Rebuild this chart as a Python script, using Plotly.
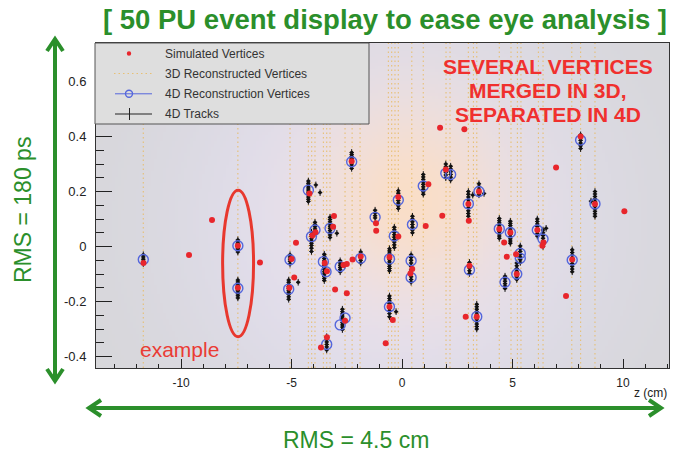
import base64
import struct
import zlib

import numpy as np
import plotly.graph_objects as go

W, H = 679, 460

# ---------------------------------------------------------------- data
# Simulated vertices: z (cm), t (ns)
sim_z = [-11.70, -9.64, -8.60, -7.43, -7.43, -6.43, -5.00, -4.88, -4.80, -5.10,
         -4.19, -4.06, -3.92, -3.08, -3.12, -2.28, -1.18, -1.17, -3.50, -3.40,
         -2.65, -2.50, -2.24, -1.87, -3.03, -2.50, -2.58, -3.40, -3.67, -0.17,
         -0.17, 1.19, 1.98, 3.02, 1.82, 1.07, 1.72, 2.82, 3.00, 3.48,
         4.40, 4.90, 4.62, 6.12, 6.40, 6.97, 10.06, 8.08, 8.73, -0.57,
         -0.57, -0.42, -0.74, 0.38, 0.46, 3.05, 2.88, 3.38, 4.74, 5.19,
         5.16, 6.35, 7.70, 7.42]
sim_t = [-0.060, -0.031, 0.096, 0.003, -0.150, -0.058, -0.045, -0.113, 0.014, -0.150,
         0.193, 0.040, 0.052, 0.111, 0.072, 0.310, 0.085, 0.057, -0.060, -0.090,
         -0.067, -0.064, -0.047, -0.036, -0.156, -0.170, -0.270, -0.330, -0.367, 0.180,
         0.036, 0.226, 0.280, 0.094, 0.112, 0.075, 0.432, 0.426, 0.155, 0.200,
         0.064, 0.051, 0.015, 0.060, 0.015, 0.287, 0.128, 0.400, 0.155, -0.038,
         -0.219, -0.267, -0.352, -0.098, -0.082, -0.070, -0.255, -0.255, -0.037, -0.100,
         -0.028, 0.003, -0.047, -0.180]

# 3D reconstructed vertices: z (cm)
reco3d_z = [-11.71, -7.43, -5.07, -4.24, -4.09, -3.94, -3.56, -3.41, -3.26, -2.58,
            -2.26, -1.90, -0.62, -0.47, -0.32, -0.17, 0.44, 0.96, 1.99, 2.17,
            3.00, 3.23, 3.38, 4.40, 4.93, 5.22, 5.38, 6.17, 6.38, 7.68,
            8.08, 8.73]

# 4D reconstructed vertices: z (cm), t (ns)
reco4d_z = [-11.71, -7.43, -7.43, -5.07, -5.13, -4.24, -4.10, -3.94, -3.26, -2.28,
            -1.22, -3.56, -3.44, -2.80, -1.87, -2.80, -2.58, -3.41, -0.57, -0.57,
            -0.17, -0.35, 0.41, 0.41, 0.47, 0.96, 1.98, 2.20, 3.00, 3.48,
            3.05, 3.38, 4.40, 4.90, 6.12, 6.38, 4.66, 5.19, 5.35, 5.35,
            7.70, 8.08, 8.73]
reco4d_t = [-0.047, 0.003, -0.152, -0.048, -0.155, 0.205, 0.036, 0.060, 0.066, 0.308,
            0.106, -0.055, -0.092, -0.073, -0.043, -0.285, -0.260, -0.356, -0.045, -0.219,
            0.169, 0.038, -0.052, -0.113, 0.080, 0.220, 0.266, 0.262, 0.155, 0.200,
            -0.085, -0.255, 0.064, 0.051, 0.060, 0.027, -0.130, -0.100, -0.025, -0.043,
            -0.049, 0.387, 0.155]

# 4D tracks, grouped in columns sharing one z (cm): (z, [t in ns ...])
track_columns = [
    (-11.71, [-0.030, -0.038, -0.046, -0.054, -0.062]),
    (-7.43, [0.024, 0.017, 0.011, 0.005, -0.001, -0.007, -0.013, -0.020]),
    (-7.43, [-0.122, -0.129, -0.136, -0.142, -0.148, -0.154, -0.160, -0.166,
             -0.172, -0.179, -0.187]),
    (-5.07, [-0.030, -0.038, -0.046, -0.054, -0.064]),
    (-5.13, [-0.122, -0.130, -0.138, -0.145, -0.152, -0.159, -0.166, -0.174, -0.183, -0.192]),
    (-4.24, [0.238, 0.230, 0.223, 0.216, 0.209, 0.202, 0.195, 0.188, 0.180, 0.172, 0.164]),
    (-4.10, [0.052, 0.044, 0.036, 0.028, 0.020, 0.012, 0.004, -0.006, -0.018]),
    (-3.94, [0.088, 0.080, 0.072, 0.064, 0.056, 0.048]),
    (-3.26, [0.106, 0.098, 0.090, 0.082, 0.074, 0.066, 0.058, 0.050, 0.042, 0.033]),
    (-2.28, [0.342, 0.335, 0.328, 0.321, 0.314, 0.307, 0.300, 0.292, 0.284]),
    (-1.22, [0.132, 0.122, 0.112, 0.104]),
    (-3.52, [-0.028, -0.036, -0.044, -0.052, -0.060, -0.068, -0.076, -0.084, -0.092,
             -0.100, -0.108, -0.116, -0.124]),
    (-2.80, [-0.052, -0.060, -0.068, -0.076, -0.084, -0.092]),
    (-1.87, [-0.020, -0.030, -0.040, -0.050, -0.060]),
    (-2.70, [-0.228, -0.237, -0.245, -0.253, -0.261, -0.269, -0.277, -0.285, -0.293, -0.302]),
    (-3.41, [-0.328, -0.338, -0.347, -0.356, -0.365, -0.376]),
    (-0.57, [-0.008, -0.016, -0.024, -0.032, -0.040, -0.048, -0.056, -0.064, -0.072,
             -0.080, -0.088]),
    (-0.57, [-0.180, -0.189, -0.198, -0.207, -0.216, -0.225, -0.234, -0.244, -0.255]),
    (-0.17, [0.203, 0.194, 0.185, 0.176, 0.167, 0.158, 0.148, 0.138]),
    (-0.35, [0.070, 0.061, 0.052, 0.043, 0.034, 0.025, 0.016, 0.006, -0.004]),
    (0.41, [-0.030, -0.040, -0.050, -0.060, -0.072, -0.085, -0.098, -0.110, -0.120, -0.130]),
    (0.47, [0.110, 0.100, 0.090, 0.080, 0.070, 0.060, 0.050]),
    (0.96, [0.262, 0.253, 0.244, 0.235, 0.226, 0.217, 0.208, 0.199, 0.190]),
    (1.98, [0.300, 0.290, 0.280, 0.270, 0.260, 0.250]),
    (2.20, [0.292, 0.282, 0.272, 0.262, 0.252, 0.242]),
    (3.00, [0.200, 0.190, 0.180, 0.170, 0.160, 0.150, 0.140, 0.130, 0.120, 0.110]),
    (3.48, [0.228, 0.218, 0.208, 0.198, 0.188]),
    (3.05, [-0.058, -0.068, -0.078, -0.088, -0.098]),
    (3.38, [-0.210, -0.219, -0.228, -0.237, -0.246, -0.255, -0.264, -0.273, -0.282,
            -0.291, -0.300]),
    (4.40, [0.102, 0.094, 0.086, 0.078, 0.070, 0.062, 0.054, 0.046, 0.038, 0.030]),
    (4.90, [0.092, 0.084, 0.076, 0.068, 0.060, 0.052, 0.044, 0.036, 0.028, 0.020, 0.012]),
    (6.12, [0.100, 0.091, 0.082, 0.073, 0.064, 0.055, 0.046, 0.038]),
    (6.38, [0.060, 0.050, 0.040, 0.030, 0.020, 0.010, 0.000]),
    (4.66, [-0.108, -0.117, -0.126, -0.135, -0.144, -0.153]),
    (5.19, [-0.060, -0.070, -0.080, -0.090, -0.100, -0.110, -0.120]),
    (5.35, [0.002, -0.008, -0.018, -0.028, -0.038, -0.048, -0.058]),
    (7.70, [-0.012, -0.022, -0.032, -0.042, -0.052, -0.062, -0.072, -0.082, -0.092]),
    (8.08, [0.406, 0.396, 0.386, 0.376, 0.366, 0.356]),
    (8.73, [0.200, 0.191, 0.182, 0.173, 0.164, 0.155, 0.146, 0.137, 0.128, 0.119, 0.110]),
]
# Tracks sitting apart from the columns
lone_track_z = [-3.90, -3.71, -2.95, -0.27, 3.20, 3.71, 6.52, 8.55, -4.70, -2.60]
lone_track_t = [0.224, 0.196, 0.048, -0.237, 0.187, 0.193, 0.066, 0.165, -0.130, -0.070]

track_z = [z for z, ts in track_columns for _ in ts] + lone_track_z
track_t = [t for _, ts in track_columns for t in ts] + lone_track_t

x_ticks = [-10, -5, 0, 5, 10]
y_ticks = [-0.4, -0.2, 0, 0.2, 0.4, 0.6]

# ---------------------------------------------------------------- styling
RED = "#e8262c"
BLUE = "#5466dc"
ORANGE = "rgba(232,188,104,0.9)"
GREEN = "#2b8f2b"
TXT = "#222222"
FONT = "Liberation Sans, Arial, sans-serif"

# plot frame in pixels
PL, PR, PT, PB = 96, 669, 43, 368
X_RANGE = [-13.85, 12.08]
Y_RANGE = [-0.4418, 0.74]


def px(x):
    return x / W


def py(y):
    return 1 - y / H


# soft glow behind the points, encoded as a small PNG
def png_uri(rgb):
    h, w, _ = rgb.shape
    raw = b"".join(b"\x00" + rgb[i].tobytes() for i in range(h))

    def chunk(tag, data):
        body = tag + data
        return struct.pack(">I", len(data)) + body + struct.pack(">I", zlib.crc32(body) & 0xFFFFFFFF)

    png = (b"\x89PNG\r\n\x1a\n"
           + chunk(b"IHDR", struct.pack(">IIBBBBB", w, h, 8, 2, 0, 0, 0))
           + chunk(b"IDAT", zlib.compress(raw, 9))
           + chunk(b"IEND", b""))
    return "data:image/png;base64," + base64.b64encode(png).decode()


gw, gh = 192, 108
u, v = np.meshgrid(np.linspace(0, 1, gw), np.linspace(0, 1, gh))
grey = np.array([214, 214, 216], float)
lav = np.array([231, 226, 248], float)
peach = np.array([250, 222, 200], float)
w_lav = np.exp(-(((u - 0.52) / 0.37) ** 2 + ((v - 0.55) / 0.65) ** 2))[..., None]
w_peach = np.exp(-(((u - 0.55) / 0.17) ** 2 + ((v - 0.48) / 0.32) ** 2))[..., None]
col = grey * (1 - w_lav) + lav * w_lav
col = col * (1 - w_peach) + peach * w_peach
glow = png_uri(np.clip(col, 0, 255).astype(np.uint8))

fig = go.Figure()

# 3D reconstructed vertices: dotted vertical lines across the frame
lz, lt = [], []
for z in reco3d_z:
    lz += [z, z, None]
    lt += [Y_RANGE[0], Y_RANGE[1], None]
fig.add_trace(go.Scatter(x=lz, y=lt, mode="lines", hoverinfo="skip",
                         line=dict(color=ORANGE, width=1.1, dash="1.5px,3px")))

# 4D tracks with their uncertainties
fig.add_trace(go.Scatter(
    x=track_z, y=track_t, mode="markers",
    marker=dict(color="#111111", size=3.5),
    error_x=dict(type="constant", value=0.1, color="#111111", thickness=1, width=0),
    error_y=dict(type="constant", value=0.012, color="#111111", thickness=1, width=0),
))

# 4D reconstructed vertices
fig.add_trace(go.Scatter(
    x=reco4d_z, y=reco4d_t, mode="markers",
    marker=dict(symbol="circle-open", color=BLUE, size=10, line=dict(width=1.4)),
))

# simulated vertices
fig.add_trace(go.Scatter(
    x=sim_z, y=sim_t, mode="markers",
    marker=dict(color=RED, size=6),
))

shapes = []
annotations = []

# legend box
LEG = dict(l=95, r=369, t=43, b=124)
shapes.append(dict(type="rect", xref="paper", yref="paper", layer="above",
                   x0=px(LEG["l"]), x1=px(LEG["r"]), y0=py(LEG["b"]), y1=py(LEG["t"]),
                   fillcolor="#dedede", line=dict(color="#555555", width=1)))
rows = [53.5, 73.5, 93.8, 114]
legend_labels = ["Simulated Vertices", "3D Reconstructed Vertices",
                 "4D Reconstruction Vertices", "4D Tracks"]
# symbols
shapes.append(dict(type="circle", xref="paper", yref="paper", layer="above",
                   x0=px(126.8), x1=px(131.2), y0=py(rows[0] + 2.2), y1=py(rows[0] - 2.2),
                   fillcolor=RED, line=dict(width=0)))
shapes.append(dict(type="line", xref="paper", yref="paper", layer="above",
                   x0=px(114), x1=px(153), y0=py(rows[1]), y1=py(rows[1]),
                   line=dict(color=ORANGE, width=1.1, dash="1.5px,3px")))
shapes.append(dict(type="line", xref="paper", yref="paper", layer="above",
                   x0=px(115), x1=px(152), y0=py(rows[2]), y1=py(rows[2]),
                   line=dict(color=BLUE, width=1)))
shapes.append(dict(type="circle", xref="paper", yref="paper", layer="above",
                   x0=px(125.5), x1=px(132.5), y0=py(rows[2] + 3.5), y1=py(rows[2] - 3.5),
                   line=dict(color=BLUE, width=1.4)))
shapes.append(dict(type="line", xref="paper", yref="paper", layer="above",
                   x0=px(115), x1=px(152), y0=py(rows[3]), y1=py(rows[3]),
                   line=dict(color="#222222", width=1)))
shapes.append(dict(type="line", xref="paper", yref="paper", layer="above",
                   x0=px(129.5), x1=px(129.5), y0=py(rows[3] - 6), y1=py(rows[3] + 6),
                   line=dict(color="#222222", width=1)))
for label, ry in zip(legend_labels, rows):
    annotations.append(dict(text=label, xref="paper", yref="paper", x=px(163), y=py(ry),
                            xanchor="left", yanchor="middle", showarrow=False,
                            font=dict(family=FONT, size=12, color="#333333")))

# highlighted pair of vertices
shapes.append(dict(type="circle", xref="x", yref="y", layer="above",
                   x0=-8.12, x1=-6.72, y0=-0.328, y1=0.205,
                   line=dict(color="#e8382e", width=3)))
annotations.append(dict(text="example", xref="paper", yref="paper", x=px(179), y=py(349),
                        xanchor="center", yanchor="middle", showarrow=False,
                        font=dict(family=FONT, size=21, color="#ea3b34")))
for line_text, ly in zip(["SEVERAL VERTICES", "MERGED IN 3D,", "SEPARATED IN 4D"],
                         [67, 90.5, 114]):
    annotations.append(dict(text=line_text, xref="paper", yref="paper", x=px(548), y=py(ly),
                            xanchor="center", yanchor="middle", showarrow=False,
                            font=dict(family=FONT, size=21, color="#f0302e", weight="bold")))

# axis caption
annotations.append(dict(text="z (cm)", xref="paper", yref="paper", x=px(669), y=py(393),
                        xanchor="right", yanchor="middle", showarrow=False,
                        font=dict(family=FONT, size=12, color=TXT)))

# headline and RMS arrows around the frame
annotations.append(dict(text="[ 50 PU event display to ease eye analysis ]",
                        xref="paper", yref="paper", x=px(385), y=py(20),
                        xanchor="center", yanchor="middle", showarrow=False,
                        font=dict(family=FONT, size=27.5, color=GREEN, weight="bold")))
annotations.append(dict(text="RMS = 4.5 cm", xref="paper", yref="paper", x=px(356), y=py(440),
                        xanchor="center", yanchor="middle", showarrow=False,
                        font=dict(family=FONT, size=23, color=GREEN)))
annotations.append(dict(text="RMS = 180 ps", xref="paper", yref="paper", x=px(23), y=py(210),
                        xanchor="center", yanchor="middle", showarrow=False, textangle=-90,
                        font=dict(family=FONT, size=23, color=GREEN)))


def seg(x0, y0, x1, y1, width=4):
    shapes.append(dict(type="line", xref="paper", yref="paper", layer="above",
                       x0=px(x0), y0=py(y0), x1=px(x1), y1=py(y1),
                       line=dict(color=GREEN, width=width)))


def chevron(tx, ty, ax, ay, bx, by):
    shapes.append(dict(type="path", xref="paper", yref="paper", layer="above",
                       path=f"M{px(ax)},{py(ay)} L{px(tx)},{py(ty)} L{px(bx)},{py(by)}",
                       line=dict(color=GREEN, width=4)))


# horizontal arrow
seg(90, 408, 660, 408)
chevron(89, 408, 101, 400, 101, 416)
chevron(661, 408, 649, 400, 649, 416)
# vertical arrow
seg(55, 40, 55, 380)
chevron(55, 39, 47, 51, 63, 51)
chevron(55, 381, 47, 369, 63, 369)

fig.update_layout(
    width=W, height=H,
    margin=dict(l=0, r=0, t=0, b=0),
    paper_bgcolor="white",
    plot_bgcolor="#d6d6d8",
    showlegend=False,
    shapes=shapes,
    annotations=annotations,
    images=[dict(source=glow, xref="paper", yref="paper", x=px(PL), y=py(PT),
                 sizex=(PR - PL) / W, sizey=(PB - PT) / H, sizing="stretch",
                 xanchor="left", yanchor="top", layer="below")],
    xaxis=dict(
        domain=[px(PL), px(PR)], range=X_RANGE, showgrid=False, zeroline=False,
        showline=True, linecolor="#333333", linewidth=1, mirror=True,
        tickmode="array", tickvals=x_ticks, ticktext=[str(v) for v in x_ticks],
        ticks="inside", ticklen=9, tickcolor="#222222", tickwidth=1,
        minor=dict(tickmode="array", tickvals=[v for v in range(-13, 13) if v % 5],
                   ticks="inside", ticklen=4, tickcolor="#222222", tickwidth=1),
        tickfont=dict(family=FONT, size=12, color=TXT), ticklabelstandoff=4,
    ),
    yaxis=dict(
        domain=[py(PB), py(PT)], range=Y_RANGE, showgrid=False, zeroline=False,
        showline=True, linecolor="#333333", linewidth=1, mirror=True,
        tickmode="array", tickvals=y_ticks, ticktext=["-0.4", "-0.2", "0", "0.2", "0.4", "0.6"],
        ticks="inside", ticklen=16, tickcolor="#222222", tickwidth=1,
        minor=dict(tickmode="array",
                   tickvals=[-0.35, -0.3, -0.25, -0.15, -0.1, -0.05, 0.05, 0.1, 0.15,
                             0.25, 0.3, 0.35, 0.45, 0.5, 0.55, 0.65, 0.7],
                   ticks="inside", ticklen=8, tickcolor="#222222", tickwidth=1),
        tickfont=dict(family=FONT, size=13, color=TXT), ticklabelstandoff=6,
    ),
)

fig.write_html("out.html")
